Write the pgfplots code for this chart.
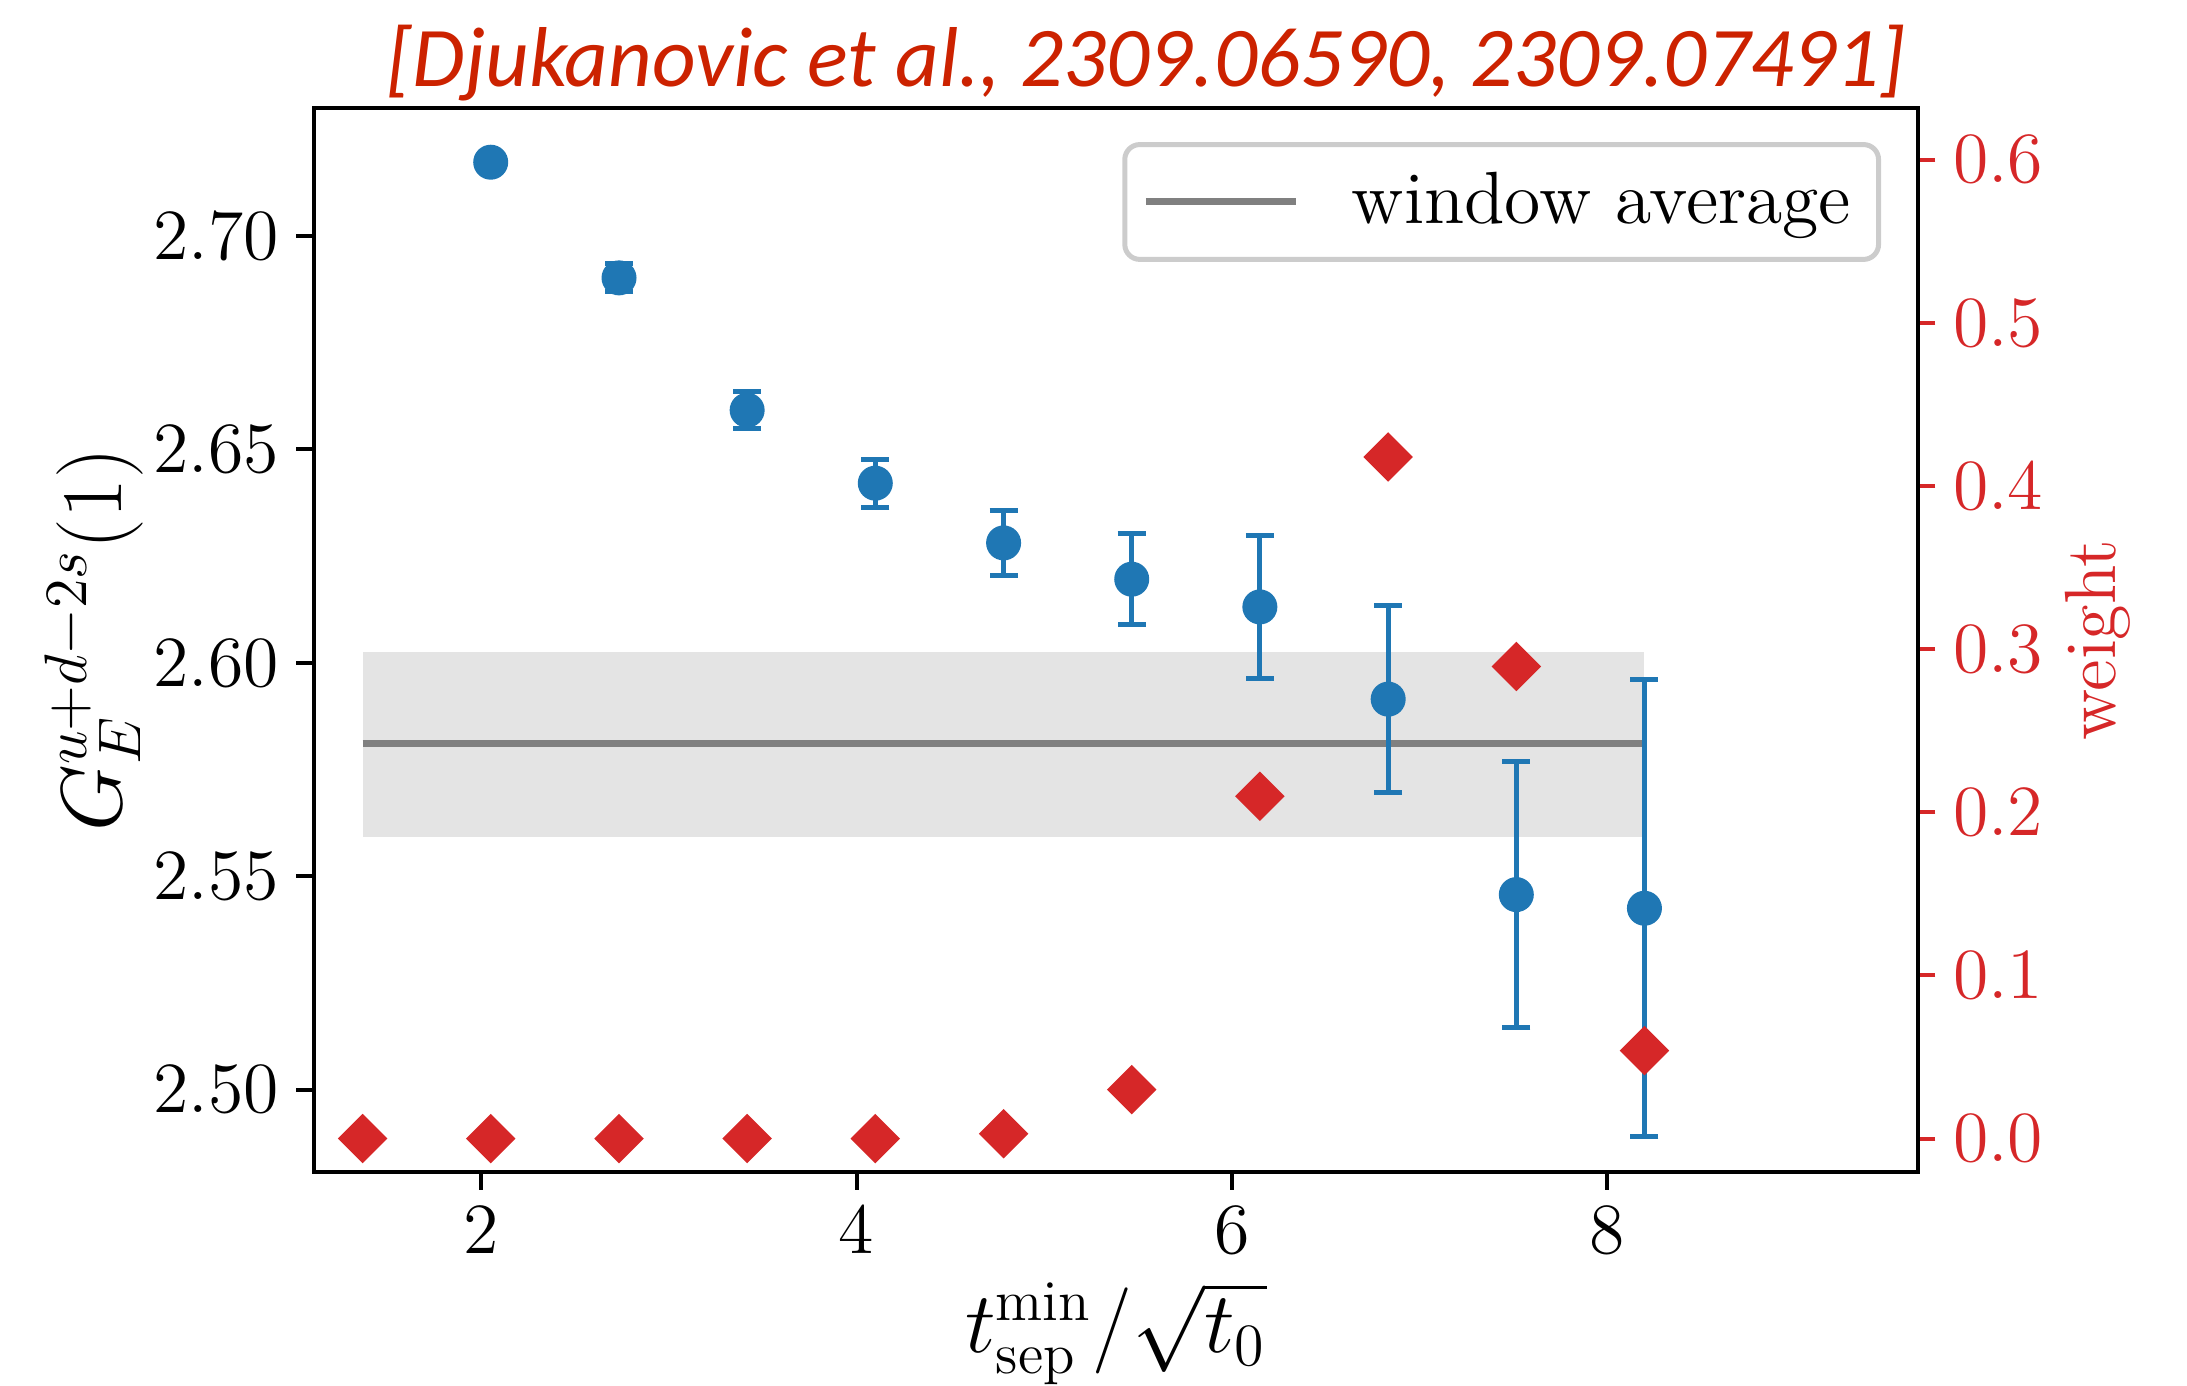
\documentclass[border=0pt]{standalone}
\usepackage{pgfplots}
\usepackage{pgfplotstable}
\pgfplotsset{compat=1.18}
\usepackage{fontspec}
\newfontfamily\carlito{Carlito}
\definecolor{tabblue}{HTML}{1F77B4}
\definecolor{tabred}{HTML}{D62728}
\definecolor{titlered}{HTML}{CC2200}
\definecolor{bandgray}{HTML}{E4E4E4}
\definecolor{avggray}{HTML}{808080}

\pgfplotstableread{
x      y       e
2.050  2.7173  0.0010
2.734  2.6902  0.0033
3.417  2.6592  0.0043
4.100  2.6421  0.0056
4.784  2.6281  0.0077
5.467  2.6196  0.0106
6.150  2.6131  0.0167
6.834  2.5915  0.0219
7.517  2.5457  0.0311
8.200  2.5425  0.0535
}\gdata

\pgfplotstableread{
x      w
1.367  0.000
2.050  0.000
2.734  0.000
3.417  0.000
4.100  0.000
4.784  0.003
5.467  0.030
6.150  0.2098
6.834  0.4178
7.517  0.2894
8.200  0.0539
}\wdata

\begin{document}
\begin{tikzpicture}
\path[use as bounding box] (-62.8pt,-42.6pt) rectangle (374.6pt,234.4pt);
\begin{axis}[
  at={(0,0)}, anchor=south west, scale only axis,
  width=320.8pt, height=212.8pt,
  xmin=1.108, xmax=9.658, ymin=2.4807, ymax=2.730,
  axis line style={line width=0.8pt},
  tick align=outside, xtick pos=bottom, ytick pos=left,
  major tick length=3.5pt,
  every tick/.style={line width=0.8pt, black},
  xtick={2,4,6,8},
  ytick={2.50,2.55,2.60,2.65,2.70},
  yticklabel style={/pgf/number format/.cd, fixed, fixed zerofill, precision=2},
  tick label style={font=\fontsize{14.5}{17}\selectfont},
  every axis x label/.style={at={(axis description cs:0.5,0)}, yshift=-32.3pt, anchor=center},
  every axis y label/.style={at={(axis description cs:0,0.5)}, xshift=-44pt, rotate=90, anchor=center},
  xlabel style={font=\fontsize{16.5}{19}\selectfont},
  ylabel style={font=\fontsize{17.5}{20}\selectfont},
  xlabel={$t_{\mathrm{sep}}^{\mathrm{min}}/\sqrt{t_0}$},
  ylabel={$G_E^{u+d-2s}(1)$},
  legend style={at={(axis description cs:0.977,0.968)}, anchor=north east,
    draw=black!20, line width=1pt, rounded corners=3pt, fill=white,
    font=\fontsize{14.8}{17}\selectfont, inner xsep=3.5pt, inner ysep=3.6pt, column sep=8.5pt},
  legend cell align=left,
  legend image code/.code={\draw[#1] (0pt,0pt) -- (30pt,0pt);},
]
\addplot[draw=none, fill=bandgray, forget plot] coordinates {
  (1.367,2.5592) (8.200,2.5592) (8.200,2.6026) (1.367,2.6026)};
\addplot[avggray, line width=1.4pt] coordinates {(1.367,2.5810) (8.200,2.5810)};
\addlegendentry{window average}
\addplot[only marks, mark=*, tabblue, mark size=3.3pt, forget plot,
  error bars/.cd, y dir=both, y explicit,
  error bar style={line width=1pt, tabblue},
  error mark options={rotate=90, mark size=2.8pt, line width=1pt, tabblue}]
  table[x=x, y=y, y error=e] {\gdata};
\end{axis}
\begin{axis}[
  at={(0,0)}, anchor=south west, scale only axis,
  width=320.8pt, height=212.8pt,
  xmin=1.108, xmax=9.658, ymin=-0.0205, ymax=0.6317,
  axis x line=none, axis y line*=right,
  axis line style={line width=0.8pt, black},
  tick align=outside, major tick length=3.5pt,
  every tick/.style={line width=0.8pt, tabred},
  ytick={0,0.1,0.2,0.3,0.4,0.5,0.6},
  yticklabel style={/pgf/number format/.cd, fixed, fixed zerofill, precision=1},
  tick label style={font=\fontsize{14.5}{17}\selectfont, text=tabred},
  every axis y label/.style={at={(axis description cs:1,0.5)}, xshift=36pt, rotate=90, anchor=center},
  ylabel={weight},
  label style={font=\fontsize{14.5}{17}\selectfont, text=tabred},
]
\addplot[only marks, mark=square*, mark size=3.3pt, tabred, mark options={rotate=45}]
  table[x=x, y=w] {\wdata};
\end{axis}
\node[anchor=base, text=titlered, font=\carlito\itshape\fontsize{17}{20}\selectfont]
  at (166.4pt,217.1pt) {[Djukanovic et al., 2309.06590, 2309.07491]};
\end{tikzpicture}
\end{document}
